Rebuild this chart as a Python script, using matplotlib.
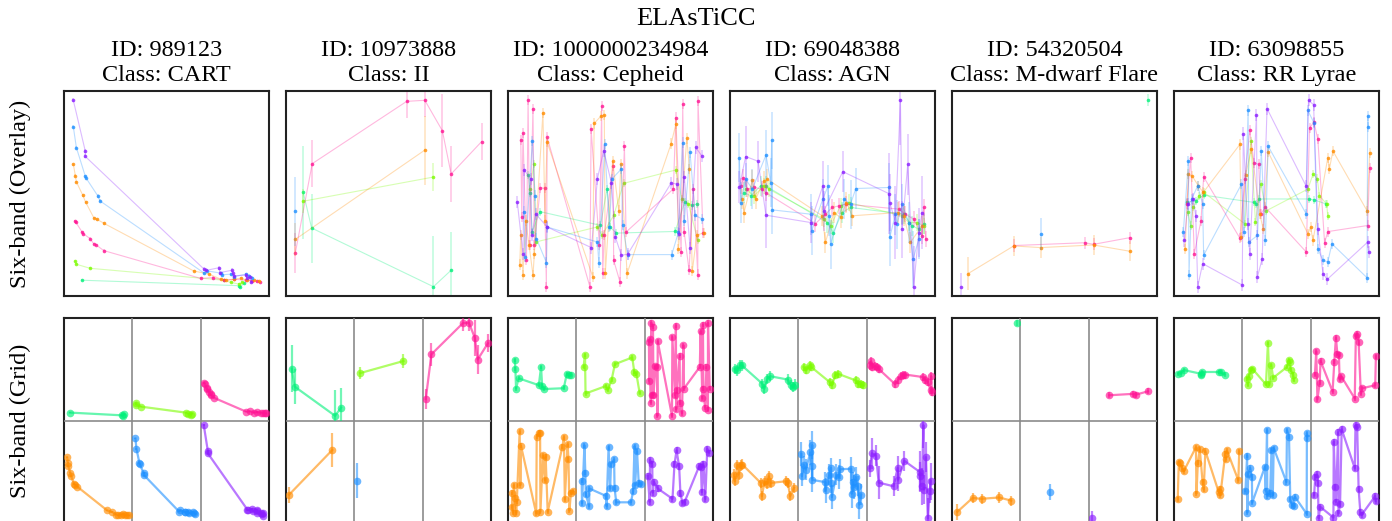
"""
Six-band light curves from ELAsTiCC: overlay view (top) and grid view (bottom).
Output: out.png
"""
import matplotlib
matplotlib.use('Agg')
import matplotlib.pyplot as plt
import numpy as np

plt.rcParams['font.family'] = ['Liberation Serif', 'DejaVu Serif']

# ── Bands and colours ────────────────────────────────────────────────────────
BANDS = ['u', 'g', 'r', 'i', 'z', 'Y']
BAND_COLORS = ['#00f07a', '#7cfc00', '#ff1493', '#ff8c00', '#1e90ff', '#8b1eff']

OBJ_IDS = ['989123', '10973888', '1000000234984', '69048388', '54320504', '63098855']
OBJ_CLASSES = ['CART', 'II', 'Cepheid', 'AGN', 'M-dwarf Flare', 'RR Lyrae']

# ── Light curves: band -> (time, flux, flux error), arbitrary units ─────────
cart_lc = {
    'u': ([9.2, 86.4, 87.0, 88.9], [6.5, 3.8, 3.3, 4.9], 0.5),
    'g': ([5.9, 6.4, 13.2, 79.1, 82.4, 86.5, 88.1],
          [16.0, 14.4, 12.4, 6.5, 5.4, 4.6, 5.4], 0.5),
    'r': ([5.6, 6.2, 9.2, 9.8, 13.1, 15.0, 16.3, 19.8, 67.6, 73.4, 79.1, 84.0, 89.7, 93.0, 95.4, 96.6],
          [35.9, 35.1, 30.4, 29.6, 27.1, 24.5, 23.9, 21.2, 7.4, 7.8, 6.5, 7.0, 6.5, 6.2, 5.9, 5.7], 0.6),
    'i': ([4.9, 5.9, 6.4, 9.6, 10.9, 15.0, 16.7, 20.1, 64.1, 71.7, 77.5, 79.9, 84.0, 87.3, 90.5, 93.8, 96.2],
          [63.9, 58.3, 55.2, 48.5, 45.3, 37.4, 36.6, 34.6, 11.1, 9.5, 7.0, 6.5, 7.0, 7.5, 6.5, 6.5, 6.2], 0.6),
    'z': ([4.9, 6.4, 10.8, 11.1, 17.0, 18.0, 69.3, 70.9, 77.5, 78.1, 82.4, 84.0, 89.7, 91.3, 93.0],
          [82.5, 72.2, 58.0, 57.2, 48.2, 45.8, 10.0, 11.1, 10.0, 9.2, 9.5, 8.3, 9.5, 8.7, 7.8], 0.8),
    'Y': ([4.9, 10.8, 10.8, 69.3, 70.4, 76.6, 77.1, 82.8, 83.3, 84.0, 89.7, 90.5, 91.7, 92.2],
          [95.6, 70.4, 67.8, 11.9, 11.4, 12.7, 10.3, 11.4, 10.3, 8.7, 9.0, 7.5, 8.3, 5.7], 1.0),
}

yso_lc = {
    'u': ([8.8, 12.9, 72.7, 81.4], [50.2, 32.7, 3.8, 11.9], [23, 17, 25, 19]),
    'g': ([8.8, 72.7], [45.9, 57.8], [6, 7]),
    'r': ([4.9, 13.2, 59.6, 68.5, 77.1, 81.4, 96.4],
          [20.4, 64.4, 95.1, 95.6, 80.6, 59.3, 75.3], [10, 11.6, 8, 8, 18, 14, 9]),
    'i': ([4.9, 68.5], [27.1, 71.1], [8, 17]),
    'z': ([4.9], [41.0], [17]),
}

cepheid_lc = {
    'u': ([10.1, 11.0, 12.0, 15.8, 45.6, 48.9, 50.5, 53.5, 82.4, 87.0, 90.5, 93.0],
          [58.8, 50.0, 30.7, 40.8, 34.0, 52.0, 33.0, 30.2, 31.0, 45.4, 43.8, 44.5], 2),
    'g': ([10.8, 12.9, 13.7, 44.0, 46.4, 52.1, 57.0, 82.7, 85.6, 88.9, 93.5],
          [52.0, 64.2, 25.8, 33.2, 29.1, 38.9, 54.7, 61.3, 47.1, 44.6, 26.6], 2),
    'r': ([6.4, 6.9, 7.5, 9.2, 10.0, 10.8, 12.4, 13.1, 16.0, 18.1, 19.0, 19.4,
           40.4, 41.0, 45.1, 46.2, 46.7, 47.5, 51.8, 52.1, 55.2, 57.4, 58.2,
           81.5, 82.7, 85.3, 86.1, 86.8, 89.2, 91.3, 93.5, 93.6, 96.1],
          [76.1, 38.1, 79.4, 16.8, 95.6, 24.2, 91.5, 24.2, 52.5, 52.3, 3.8, 77.3,
           3.8, 81.4, 24.2, 92.8, 10.3, 29.1, 63.1, 16.8, 6.2, 73.2, 30.7,
           52.0, 87.1, 20.9, 93.6, 30.7, 11.9, 52.0, 9.8, 95.3, 30.4], 2.5),
    'i': ([5.9, 6.4, 7.5, 8.8, 10.5, 12.4, 13.1, 17.3, 18.3, 19.3,
           41.8, 42.5, 45.9, 47.5, 48.0, 51.6, 54.6, 55.7, 58.7,
           80.4, 82.7, 84.0, 88.1, 89.4, 90.8, 93.0, 96.4],
          [14.7, 29.1, 9.5, 36.4, 24.2, 9.5, 20.1, 89.5, 36.4, 75.2,
           8.7, 84.2, 87.9, 88.2, 10.3, 65.8, 41.3, 64.2, 10.3,
           74.3, 83.8, 22.5, 76.8, 61.8, 11.4, 29.1, 30.4], 2.5),
    'z': ([8.0, 8.5, 12.1, 13.4, 14.1, 19.0, 19.4, 44.1, 44.8, 47.7, 50.0, 51.3, 55.9, 56.5, 59.0,
           80.7, 84.0, 86.0, 86.9, 89.7, 92.2, 95.4],
          [40.8, 18.5, 75.7, 48.7, 27.5, 15.7, 33.2, 25.8, 15.7, 74.0, 33.2, 56.9, 61.8, 34.0, 19.6,
           19.6, 30.7, 74.8, 36.4, 69.9, 38.9, 37.3], 2.5),
    'Y': ([4.7, 7.5, 8.0, 11.3, 11.8, 13.7, 19.4, 41.2, 44.1, 47.2, 51.0, 52.9, 55.9, 59.0,
           80.4, 83.2, 84.3, 86.9, 89.7, 92.5, 95.4],
          [45.4, 20.1, 61.3, 56.9, 29.1, 39.7, 33.2, 23.0, 56.9, 70.8, 54.9, 28.3, 19.3, 19.8,
           54.9, 54.4, 29.6, 57.7, 22.9, 72.4, 68.3], 3),
}

agn_lc = {
    'u': ([7.2, 10.5, 15.4, 17.8, 48.0, 51.0, 55.4, 59.5, 85.6, 89.7, 93.0, 95.4],
          [50.3, 48.7, 53.6, 53.6, 35.6, 30.7, 40.5, 43.0, 39.7, 34.0, 32.4, 34.8], 5),
    'g': ([8.0, 12.1, 17.0, 19.4, 46.4, 49.7, 54.6, 58.7, 84.8, 88.1, 92.2, 95.4],
          [52.0, 48.7, 53.6, 52.0, 37.3, 34.0, 43.8, 45.4, 38.9, 35.6, 35.6, 34.0], 4),
    'r': ([5.9, 6.9, 8.8, 12.1, 16.2, 17.8, 42.3, 47.2, 50.5, 53.8, 57.5,
           83.2, 86.4, 90.5, 94.6, 95.4, 96.4],
          [53.6, 57.7, 52.0, 52.8, 52.0, 50.3, 35.1, 39.7, 43.0, 43.8, 44.6,
           42.2, 39.7, 37.3, 29.1, 43.0, 27.5], 4),
    'i': ([6.4, 7.2, 11.3, 12.9, 17.0, 18.6, 45.6, 47.2, 51.3, 54.6, 57.5, 60.3,
           82.7, 85.6, 88.9, 94.6],
          [47.1, 40.5, 56.5, 47.1, 56.0, 56.9, 38.9, 25.8, 40.5, 38.1, 45.4, 38.9,
           40.5, 38.9, 25.8, 34.0], 5),
    'z': ([4.9, 5.6, 8.0, 11.3, 18.0, 20.3, 20.8, 21.1, 39.9, 40.4, 45.9, 48.5, 48.9, 49.7,
           56.5, 59.5, 62.1, 78.3, 78.8, 81.5, 82.4, 84.8, 88.1, 90.2, 93.0],
          [67.5, 45.4, 56.9, 52.0, 68.8, 55.2, 76.0, 41.8, 39.7, 31.5, 47.1, 53.6, 38.9, 25.0,
           47.1, 44.6, 52.3, 52.8, 28.3, 39.7, 34.8, 44.6, 35.6, 17.6, 27.5],
          [12, 10, 8, 10, 12, 12, 14, 12, 10, 12, 10, 10, 10, 12,
           10, 12, 10, 12, 14, 10, 12, 10, 10, 14, 10]),
    'Y': ([4.9, 8.0, 14.1, 18.0, 39.9, 45.9, 46.4, 55.7, 78.3, 78.8, 81.5, 84.0, 84.8, 87.6, 90.5, 93.0, 94.6],
          [53.1, 68.0, 65.7, 39.2, 35.6, 53.6, 41.3, 60.6, 49.8, 45.4, 35.6, 95.6, 32.4, 64.2, 4.1, 30.7, 40.5],
          [8, 15, 10, 16, 10, 12, 10, 10, 20, 14, 18, 22, 14, 15, 20, 12, 18]),
}

flare_lc = {
    'u': ([96.4], [95.6], [3]),
    'r': ([30.6, 65.5, 69.8, 87.6], [23.9, 25.3, 24.5, 27.8], [3, 3, 3, 3]),
    'i': ([8.3, 30.6, 43.8, 69.8, 87.6], [10.1, 23.7, 22.9, 24.2, 21.1], [8, 5, 5, 5, 5]),
    'z': ([43.8], [29.6], [8]),
    'Y': ([4.9], [3.6], [7]),
}

rrlyrae_lc = {
    'u': ([6.4, 10.8, 14.7, 39.5, 40.7, 41.8, 66.3, 69.0, 75.0],
          [45.4, 46.2, 49.0, 45.4, 44.6, 47.1, 47.1, 46.7, 44.6], 2),
    'g': ([6.9, 8.3, 9.6, 12.4, 14.9, 35.0, 37.9, 40.2, 42.8, 45.6, 66.0, 68.5, 70.6, 71.7, 75.2, 75.8],
          [40.5, 34.0, 43.0, 48.7, 50.3, 34.8, 75.7, 35.6, 54.4, 41.3, 52.0, 59.3, 57.2, 48.7, 44.6, 38.9], 2),
    'r': ([6.4, 8.3, 10.1, 13.4, 14.7, 32.5, 35.0, 37.4, 39.5, 41.8, 42.8, 45.1,
           65.2, 66.8, 69.0, 70.9, 74.2, 75.8, 95.4, 96.4],
          [44.6, 67.5, 20.1, 36.4, 58.0, 27.8, 57.2, 81.0, 65.0, 64.2, 39.7, 43.0,
           20.9, 82.2, 85.0, 76.5, 25.5, 31.0, 34.0, 62.6], 2.5),
    'i': ([5.6, 7.2, 9.2, 12.1, 14.5, 32.5, 33.3, 35.3, 38.2, 42.3, 44.0, 46.4,
           66.0, 67.3, 68.5, 75.8, 76.6, 78.3, 95.1, 96.4],
          [22.5, 59.3, 58.2, 53.6, 50.3, 74.0, 28.3, 58.8, 71.9, 39.7, 32.4, 70.4,
           29.9, 33.2, 26.6, 67.5, 62.1, 70.8, 41.3, 69.9], 2.5),
    'z': ([4.7, 7.2, 7.5, 8.8, 11.8, 14.2, 14.7, 33.3, 34.6, 36.6, 36.9, 41.2, 43.1, 45.1, 46.4,
           65.2, 66.0, 69.0, 70.9, 73.4, 75.8, 77.8, 95.1, 95.4, 95.8],
          [30.7, 65.8, 9.5, 47.1, 53.6, 44.6, 19.3, 54.4, 31.0, 90.8, 25.8, 29.1, 70.8, 26.6, 73.2,
           39.7, 90.8, 84.6, 22.5, 16.8, 16.0, 25.0, 8.2, 87.9, 82.7], 2.5),
    'Y': ([5.2, 6.9, 9.6, 10.8, 11.8, 14.2, 33.7, 34.2, 36.3, 37.4, 40.7, 41.2, 43.5, 45.9,
           65.2, 66.3, 68.8, 70.9, 73.4, 75.5, 95.4, 95.9],
          [26.6, 44.6, 47.1, 38.9, 3.8, 15.2, 4.6, 79.4, 34.8, 20.1, 88.7, 8.7, 17.6, 91.7,
           53.3, 95.8, 93.6, 32.4, 10.3, 7.4, 25.8, 20.9], 3),
}

LIGHT_CURVES = [cart_lc, yso_lc, cepheid_lc, agn_lc, flare_lc, rrlyrae_lc]

# ── Layout (pixels of a 1392 x 521 canvas) ──────────────────────────────────
W, H = 1392, 521
fig = plt.figure(figsize=(W / 100, H / 100), dpi=100)

panel_size = 205
col_left = [64 + 222 * k for k in range(6)]
row_top = [91, 318]


def add_panel(left, top):
    ax = fig.add_axes([left / W, 1 - (top + panel_size) / H, panel_size / W, panel_size / H])
    ax.set_xticks([])
    ax.set_yticks([])
    for s in ax.spines.values():
        s.set_linewidth(1.5)
        s.set_color('#222222')
    return ax


def limits(lc):
    t = np.concatenate([np.asarray(v[0], float) for v in lc.values()])
    f = np.concatenate([np.asarray(v[1], float) for v in lc.values()])
    tpad = 0.05 * (t.max() - t.min())
    fpad = 0.05 * (f.max() - f.min())
    return (t.min() - tpad, t.max() + tpad), (f.min() - fpad, f.max() + fpad)


for k, lc in enumerate(LIGHT_CURVES):
    xlim, ylim = limits(lc)

    # Overlay view
    ax = add_panel(col_left[k], row_top[0])
    for band, color in zip(BANDS, BAND_COLORS):
        if band not in lc:
            continue
        t, f, e = lc[band]
        ax.errorbar(t, f, yerr=e, fmt='none', ecolor=color, elinewidth=1.3, alpha=0.22)
        ax.plot(t, f, '-', color=color, lw=0.8, alpha=0.3)
        ax.plot(t, f, 'o', color=color, ms=2.6, mec='none', alpha=0.8)
    ax.set_xlim(xlim)
    ax.set_ylim(ylim)
    ax.set_title(f'ID: {OBJ_IDS[k]}\nClass: {OBJ_CLASSES[k]}', fontsize=17.5, pad=7,
                 linespacing=1.25)

    # Grid view: one cell per band, 2 x 3
    axg = add_panel(col_left[k], row_top[1])
    for b, (band, color) in enumerate(zip(BANDS, BAND_COLORS)):
        r, c = divmod(b, 3)
        cell = axg.inset_axes([c / 3, (1 - r) * 0.5, 1 / 3, 0.5])
        cell.set_xlim(xlim)
        cell.set_ylim(ylim)
        cell.axis('off')
        if band not in lc:
            continue
        t, f, e = lc[band]
        cell.errorbar(t, f, yerr=e, fmt='none', ecolor=color, elinewidth=1.6, alpha=0.55)
        cell.plot(t, f, '-', color=color, lw=1.6, alpha=0.6)
        cell.plot(t, f, 'o', color=color, ms=5.5, mec='none', alpha=0.65)
    for xv in (1 / 3, 2 / 3):
        axg.axvline(xv, color='#888888', lw=1.3, alpha=0.9, zorder=5)
    axg.axhline(0.5, color='#888888', lw=1.3, alpha=0.9, zorder=5)

# Row labels and title
fig.text(20 / W, 1 - 194 / H, 'Six-band (Overlay)', rotation=90, ha='center', va='center',
         fontsize=17.5)
fig.text(20 / W, 1 - 421 / H, 'Six-band (Grid)', rotation=90, ha='center', va='center',
         fontsize=17.5)
fig.text(0.5, 1 - 25 / H, 'ELAsTiCC', ha='center', va='baseline', fontsize=19)

fig.savefig('out.png', dpi=100, facecolor='white')
plt.close(fig)
